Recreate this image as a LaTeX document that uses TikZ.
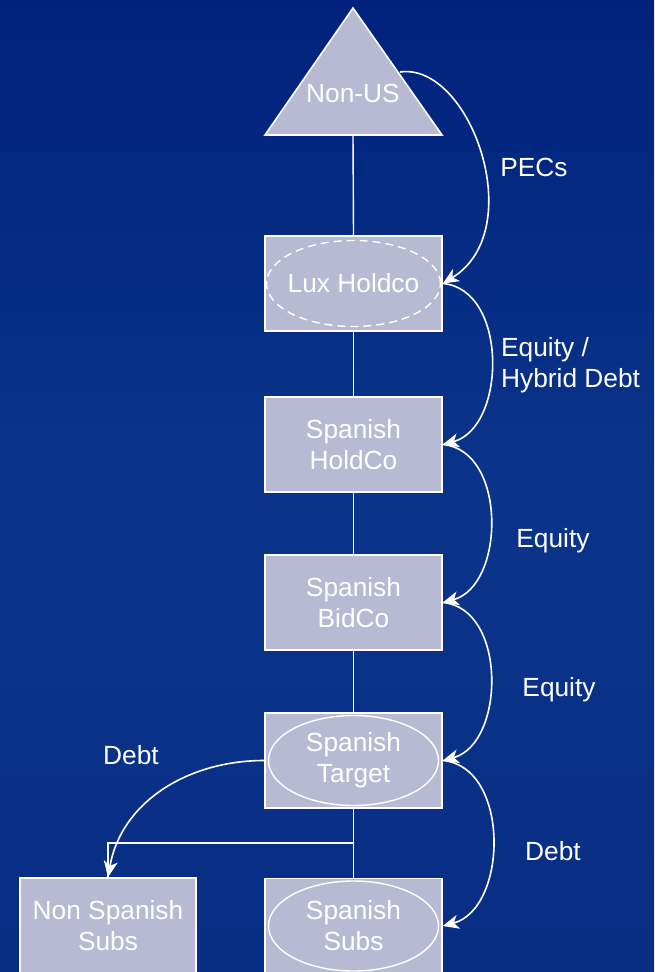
\documentclass[tikz,border=0pt]{standalone}
\usepackage{fontspec}
\setmainfont{Liberation Sans}
\usetikzlibrary{arrows.meta}
\definecolor{bgtop}{RGB}{0,34,124}
\definecolor{bgmid}{RGB}{10,52,138}
\definecolor{bgbot}{RGB}{8,46,132}
\definecolor{boxfill}{RGB}{184,186,212}
\tikzset{
  ent/.style={draw=white, line width=1.6pt, fill=boxfill, text=white, minimum width=177pt, minimum height=95pt, align=center, inner sep=0pt},
  conn/.style={draw=white, line width=1.4pt},
  flow/.style={draw=white, line width=1.6pt, -{Stealth[length=16pt,width=14pt,inset=4.5pt]}},
  lbl/.style={text=white, inner sep=0pt},
}
\begin{document}
\begin{tikzpicture}[x=1pt,y=-1pt, font=\fontsize{26.3}{31}\selectfont]
\useasboundingbox (0,0) rectangle (654,972);
\shade[top color=bgtop, bottom color=bgbot, middle color=bgmid] (0,0) rectangle (654,972);
% triangle
\draw[white, line width=1.6pt, fill=boxfill] (353,8) -- (442,135) -- (265,135) -- cycle;
\node[lbl] (nonus) at (353,93) {Non-US};
\coordinate (nonusbase) at (353,135);
\coordinate (nonusr) at (400,72);
% boxes
\node[ent] (lux) at (353.5,283.5) {};
\draw[white, line width=1.4pt, dash pattern=on 8pt off 5pt] (lux.center) ellipse [x radius=87pt, y radius=43pt];
\node[lbl] at (lux.center) {Lux Holdco};
\node[ent] (hold) at (353.5,444.5) {Spanish\\HoldCo};
\node[ent] (bid) at (353.5,602.5) {Spanish\\BidCo};
\node[ent] (tgt) at (353.5,760.5) {};
\draw[white, line width=1.4pt] (tgt.center) ellipse [x radius=85pt, y radius=45pt];
\node[lbl, align=center] at (tgt.center) {Spanish\\Target};
\node[ent] (subs) at (353.5,926) {};
\draw[white, line width=1.4pt] (subs.center) ellipse [x radius=85pt, y radius=45pt];
\node[lbl, align=center] at (subs.center) {Spanish\\Subs};
\node[ent, minimum width=176pt] (nsubs) at (108,925.5) {Non Spanish\\Subs};
% ownership lines
\draw[conn] (nonusbase) -- (lux.north);
\draw[conn] (lux.south) -- (hold.north);
\draw[conn] (hold.south) -- (bid.north);
\draw[conn] (bid.south) -- (tgt.north);
\draw[conn] (tgt.south) -- (subs.north);
\coordinate (br) at (353,843);
\draw[conn] (br) -| (nsubs.north);
% flows
\draw[flow] (nonusr) .. controls (470,62) and (530,230) .. (lux.east);
\draw[flow] (lux.east) to[out=-5,in=15,looseness=1.05] (hold.east);
\draw[flow] (hold.east) to[out=-5,in=15,looseness=1.05] (bid.east);
\draw[flow] (bid.east) to[out=-5,in=15,looseness=1.05] (tgt.east);
\draw[flow] (tgt.east) to[out=-5,in=15,looseness=1.05] (subs.east);
\draw[flow] (tgt.west) to[out=180,in=80] (nsubs.north);
% labels
\node[lbl] (l1) at (534,167) {PECs};
\node[lbl, anchor=west, align=left] (l2) at (501,365) {Equity /\\Hybrid Debt};
\node[lbl] (l3) at (553,541) {Equity};
\node[lbl] (l4) at (559,690) {Equity};
\node[lbl] (l5) at (553,851) {Debt};
\node[lbl] (l6) at (131,755) {Debt};
\end{tikzpicture}
\end{document}
